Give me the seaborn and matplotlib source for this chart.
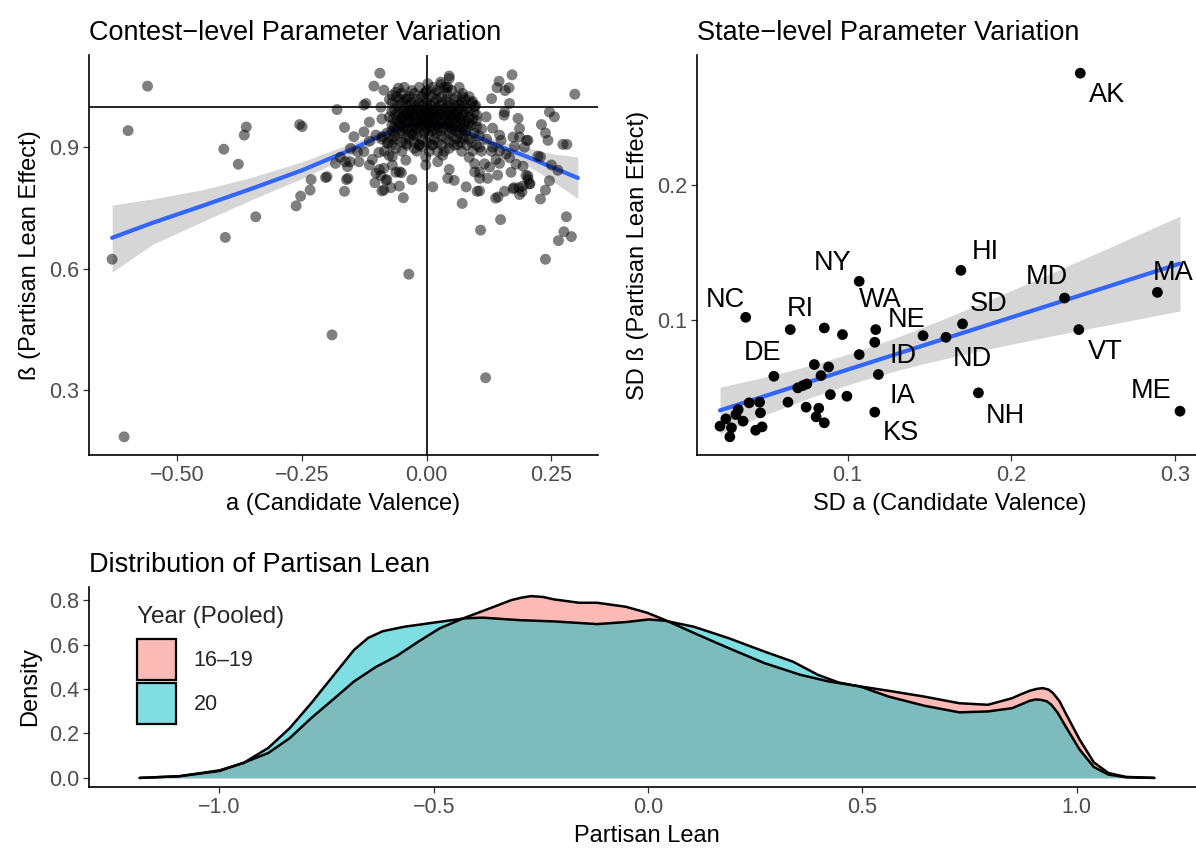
import numpy as np
import pandas as pd
import seaborn as sns
import matplotlib.pyplot as plt
from matplotlib.patches import Patch
from matplotlib.colors import to_rgba

# ---------------- data ----------------
# Contest-level estimates: valence (a) and partisan lean effect (beta)
contest_a = [
    -0.560, -0.599, -0.631, -0.607, -0.362, -0.366, -0.407, -0.378, -0.404, -0.343,
    -0.255, -0.180, -0.165, -0.232, -0.203, -0.234, -0.253, -0.262, -0.190, -0.165,
    -0.161, -0.173, -0.183, -0.200, -0.154, -0.250,
    -0.094, -0.106, -0.086, -0.057, -0.126, -0.126, -0.090, -0.092, 0.045, 0.028,
    0.042, 0.002, -0.002, 0.171, 0.145, 0.141, 0.165, 0.130, 0.166, 0.155,
    0.297, 0.246, 0.256, 0.230, 0.238, 0.243, 0.273, 0.281, 0.223, 0.250,
    0.263, 0.246, 0.238, 0.228, 0.280, 0.275, 0.290, 0.264, 0.148, 0.108,
    0.071, 0.101, 0.138, 0.156, 0.173, 0.186, 0.012, -0.047, -0.055, -0.090,
    -0.104, -0.082, -0.158, -0.055, -0.042, 0.042, 0.022, -0.002, -0.002, 0.106,
    0.122, 0.096, 0.142, 0.146, 0.199, 0.203, 0.238, 0.118, -0.036,
    0.157, 0.156, 0.183, 0.186, 0.203, 0.228, 0.207, 0.191, 0.185, 0.175,
    0.143, 0.106, -0.051, -0.010, -0.086, -0.080, 0.029, 0.045, 0.040, -0.122,
    -0.115, -0.102, -0.089, -0.079, -0.069, -0.062, -0.076, -0.096, -0.109, -0.115,
    -0.102, -0.086, -0.069, -0.069, -0.042, -0.025, -0.015, -0.028, -0.153, -0.146,
    -0.139, -0.163, -0.159, -0.136, -0.126, -0.069, -0.062, -0.042,
    -0.115, -0.095, -0.092, -0.062, -0.072, -0.030,
    0.072, 0.092, 0.096, 0.065, 0.119, 0.132, 0.146, 0.149, 0.173, 0.186,
    0.200, 0.196, 0.176, 0.159, 0.146, 0.132, 0.106, 0.092, 0.085, 0.096,
    0.116, 0.106, 0.126, 0.139, 0.166, 0.179, 0.193, 0.203, 0.193, 0.206,
    0.169, 0.079, 0.055, 0.045, 0.032, 0.045, 0.062, 0.072, 0.022, 0.012,
]
contest_b = [
    1.051, 0.941, 0.623, 0.184, 0.950, 0.930, 0.895, 0.858, 0.677, 0.728,
    0.956, 0.993, 0.949, 0.820, 0.825, 0.794, 0.779, 0.755, 0.436, 0.791,
    0.820, 0.875, 0.860, 0.827, 0.864, 0.951,
    1.083, 1.051, 1.041, 1.046, 1.004, 0.938, 0.970, 0.999, 1.076, 1.061,
    1.049, 1.057, 1.036, 1.079, 1.063, 1.047, 1.047, 1.020, 1.008, 0.979,
    1.031, 0.987, 0.975, 0.956, 0.935, 0.917, 0.907, 0.907, 0.878, 0.856,
    0.843, 0.817, 0.794, 0.772, 0.728, 0.691, 0.679, 0.669, 0.721, 0.695,
    0.761, 0.791, 0.774, 0.791, 0.797, 0.783, 0.802, 0.775, 0.804, 0.792,
    0.812, 0.818, 0.823, 0.839, 0.868, 0.823, 0.864, 0.856, 0.876, 0.823,
    0.823, 0.839, 0.831, 0.860, 0.830, 0.820, 0.623, 0.330, 0.586,
    1.040, 0.987, 0.971, 0.946, 0.917, 0.876, 0.810, 0.790, 0.800, 0.800,
    0.777, 0.792, 0.837, 0.901, 0.794, 0.820, 1.055, 1.070, 1.047, 1.008,
    0.962, 0.930, 0.926, 0.909, 0.921, 0.897, 0.880, 0.887, 0.870, 0.856,
    0.836, 0.848, 0.856, 0.877, 0.909, 0.897, 0.906, 0.930, 0.897, 0.926,
    0.889, 0.864, 0.852, 0.864, 0.889, 1.028, 1.036, 1.020,
    0.915, 0.845, 0.830, 0.838, 0.800, 0.820,
    1.024, 1.013, 1.000, 1.004, 0.975, 0.947, 0.930, 0.917, 0.925, 0.925,
    0.917, 0.900, 0.902, 0.883, 0.891, 0.900, 0.900, 0.891, 0.875, 0.859,
    0.859, 0.838, 0.851, 0.870, 0.874, 0.858, 0.853, 0.829, 0.804, 0.809,
    0.838, 0.802, 0.818, 0.845, 0.880, 0.897, 0.906, 0.922, 0.889, 0.906,
]

# The densely packed contests around a = 0, beta = 0.97
core_a = [
    -0.030, 0.000, 0.020, 0.050,
    -0.060, -0.035, -0.010, 0.010, 0.030, 0.060, 0.085,
    -0.070, -0.050, -0.030, -0.015, 0.000, 0.015, 0.030, 0.045, 0.070, 0.090,
    -0.065, -0.045, -0.030, -0.020, -0.005, 0.005, 0.020, 0.035, 0.050, 0.065, 0.080,
    -0.055, -0.040, -0.025, -0.010, 0.000, 0.010, 0.025, 0.040, 0.055, 0.075, 0.095,
    -0.075, -0.050, -0.035, -0.020, -0.005, 0.008, 0.020, 0.035, 0.050, 0.065, 0.085,
    -0.060, -0.045, -0.030, -0.012, 0.000, 0.012, 0.030, 0.045, 0.060, 0.080, 0.100,
    -0.070, -0.050, -0.025, -0.010, 0.005, 0.020, 0.040, 0.055, 0.075, 0.090,
    -0.060, -0.040, -0.020, 0.000, 0.015, 0.035, 0.050, 0.070, 0.110,
    -0.080, -0.050, -0.030, -0.005, 0.020, 0.045, 0.065, 0.095,
    -0.090, -0.060, -0.035, -0.010, 0.015, 0.040, 0.060, 0.085, 0.120,
    -0.070, -0.040, -0.015, 0.010, 0.030, 0.055, 0.080, 0.100,
    -0.085, -0.050, -0.020, 0.005, 0.035, 0.070, 0.110, 0.130,
    -0.045, -0.015, 0.012, 0.035, 0.065,
    -0.050, -0.025, -0.005, 0.018, 0.040, 0.072,
    -0.075, -0.055, -0.040, -0.020, 0.000, 0.020, 0.040, 0.055, 0.078,
    -0.058, -0.038, -0.022, -0.008, 0.008, 0.025, 0.042, 0.058, 0.075, 0.098,
    -0.070, -0.048, -0.033, -0.018, -0.002, 0.012, 0.028, 0.045, 0.062, 0.085,
    -0.062, -0.045, -0.028, -0.012, 0.004, 0.016, 0.030, 0.046, 0.060, 0.072, 0.100,
    -0.068, -0.052, -0.038, -0.024, -0.008, 0.006, 0.018, 0.038, 0.055, 0.070, 0.092,
    -0.055, -0.038, -0.018, 0.000, 0.015, 0.028, 0.048, 0.068, 0.085,
    -0.065, -0.045, -0.030, -0.012, 0.008, 0.025, 0.045, 0.062, 0.080, 0.100,
    -0.070, -0.048, -0.025, -0.005, 0.010, 0.028, 0.058, 0.078,
    -0.065, -0.040, -0.020, 0.005, 0.030, 0.052, 0.075, 0.105,
    -0.078, -0.050, -0.025, 0.000, 0.022, 0.045, 0.068, 0.090,
]
core_b = [
    1.040, 1.040, 1.040, 1.040,
    1.025, 1.025, 1.025, 1.025, 1.025, 1.025, 1.025,
    1.010, 1.010, 1.010, 1.010, 1.010, 1.010, 1.010, 1.010, 1.010, 1.010,
    0.995, 0.995, 0.995, 0.995, 0.995, 0.995, 0.995, 0.995, 0.995, 0.995, 0.995,
    0.985, 0.985, 0.985, 0.985, 0.985, 0.985, 0.985, 0.985, 0.985, 0.985, 0.985,
    0.975, 0.975, 0.975, 0.975, 0.975, 0.975, 0.975, 0.975, 0.975, 0.975, 0.975,
    0.965, 0.965, 0.965, 0.965, 0.965, 0.965, 0.965, 0.965, 0.965, 0.965, 0.965,
    0.955, 0.955, 0.955, 0.955, 0.955, 0.955, 0.955, 0.955, 0.955, 0.955,
    0.945, 0.945, 0.945, 0.945, 0.945, 0.945, 0.945, 0.945, 0.945,
    0.935, 0.935, 0.935, 0.935, 0.935, 0.935, 0.935, 0.935,
    0.920, 0.920, 0.920, 0.920, 0.920, 0.920, 0.920, 0.920, 0.920,
    0.905, 0.905, 0.905, 0.905, 0.905, 0.905, 0.905, 0.905,
    0.890, 0.890, 0.890, 0.890, 0.890, 0.890, 0.890, 0.890,
    1.048, 1.048, 1.048, 1.048, 1.048,
    1.033, 1.033, 1.033, 1.033, 1.033, 1.033,
    1.018, 1.018, 1.018, 1.018, 1.018, 1.018, 1.018, 1.018, 1.018,
    1.003, 1.003, 1.003, 1.003, 1.003, 1.003, 1.003, 1.003, 1.003, 1.003,
    0.990, 0.990, 0.990, 0.990, 0.990, 0.990, 0.990, 0.990, 0.990, 0.990,
    0.980, 0.980, 0.980, 0.980, 0.980, 0.980, 0.980, 0.980, 0.980, 0.980, 0.980,
    0.970, 0.970, 0.970, 0.970, 0.970, 0.970, 0.970, 0.970, 0.970, 0.970, 0.970,
    0.960, 0.960, 0.960, 0.960, 0.960, 0.960, 0.960, 0.960, 0.960,
    0.950, 0.950, 0.950, 0.950, 0.950, 0.950, 0.950, 0.950, 0.950, 0.950,
    0.940, 0.940, 0.940, 0.940, 0.940, 0.940, 0.940, 0.940,
    0.928, 0.928, 0.928, 0.928, 0.928, 0.928, 0.928, 0.928,
    0.912, 0.912, 0.912, 0.912, 0.912, 0.912, 0.912, 0.912,
]

# Local regression fit of beta on a, with its 95% band
smooth_a = [-0.631, -0.55, -0.45, -0.35, -0.25, -0.15, -0.10, -0.05, 0.0,
            0.05, 0.10, 0.15, 0.20, 0.25, 0.303]
smooth_fit = [0.676, 0.713, 0.755, 0.798, 0.843, 0.895, 0.924, 0.950, 0.962,
              0.952, 0.926, 0.900, 0.877, 0.851, 0.824]
smooth_lo = [0.591, 0.660, 0.716, 0.771, 0.823, 0.881, 0.912, 0.940, 0.953,
             0.942, 0.915, 0.887, 0.856, 0.818, 0.773]
smooth_hi = [0.757, 0.772, 0.795, 0.826, 0.864, 0.910, 0.936, 0.960, 0.971,
             0.962, 0.937, 0.914, 0.899, 0.884, 0.876]

# State-level standard deviations of a and beta
state_abbr = ["AK", "HI", "NY", "NC", "RI", "MD", "MA", "SD", "VT", "NE",
              "ND", "WA", "", "", "ID", "", "IA", "KS", "NH", "ME",
              "DE", "", "", "", "", "", "", "", "", "",
              "", "", "", "", "", "", "", "", "", "",
              "", "", "", "", "", ""]
state_sd_a = [0.2421, 0.1692, 0.1071, 0.0378, 0.0650, 0.2325, 0.2892, 0.1702, 0.2412, 0.1461,
              0.1601, 0.1172, 0.0969, 0.0858, 0.1166, 0.1071, 0.1188, 0.1166, 0.1799, 0.3030,
              0.0550, 0.0797, 0.0884, 0.0838, 0.0696, 0.0727, 0.0751, 0.0895, 0.0996, 0.0636,
              0.0747, 0.0824, 0.0808, 0.0858, 0.0399, 0.0463, 0.0468, 0.0439, 0.0478, 0.0332,
              0.0362, 0.0257, 0.0221, 0.0291, 0.0281, 0.0318]
state_sd_b = [0.2827, 0.1365, 0.1284, 0.1017, 0.0926, 0.1160, 0.1202, 0.0968, 0.0926, 0.0881,
              0.0869, 0.0926, 0.0889, 0.0938, 0.0832, 0.0741, 0.0593, 0.0314, 0.0457, 0.0321,
              0.0580, 0.0667, 0.0649, 0.0585, 0.0494, 0.0511, 0.0523, 0.0444, 0.0432, 0.0388,
              0.0351, 0.0343, 0.0279, 0.0235, 0.0383, 0.0388, 0.0309, 0.0180, 0.0205, 0.0333,
              0.0247, 0.0264, 0.0210, 0.0198, 0.0131, 0.0296]

# Kernel density of partisan lean, by pooled year
lean_x_1619 = [-1.186, -1.094, -1.0, -0.944, -0.886, -0.836, -0.786, -0.736, -0.686, -0.636,
               -0.586, -0.536, -0.486, -0.427, -0.369, -0.319, -0.295, -0.273, -0.245, -0.219,
               -0.161, -0.119, -0.052, -0.002, 0.040, 0.107, 0.189, 0.272, 0.355, 0.421,
               0.487, 0.561, 0.644, 0.726, 0.793, 0.850, 0.872, 0.892, 0.908, 0.921,
               0.935, 0.945, 0.960, 0.974, 1.007, 1.040, 1.074, 1.115, 1.181]
dens_1619 = [0.0, 0.0075, 0.031, 0.068, 0.112, 0.179, 0.269, 0.351, 0.434, 0.498,
             0.549, 0.613, 0.673, 0.721, 0.763, 0.800, 0.811, 0.818, 0.814, 0.803,
             0.788, 0.788, 0.770, 0.743, 0.710, 0.652, 0.583, 0.516, 0.464, 0.434,
             0.414, 0.392, 0.366, 0.336, 0.329, 0.359, 0.378, 0.393, 0.401, 0.404,
             0.397, 0.381, 0.345, 0.292, 0.172, 0.070, 0.022, 0.0045, 0.0]
lean_x_20 = [-1.186, -1.094, -1.0, -0.944, -0.886, -0.836, -0.786, -0.736, -0.686, -0.653,
             -0.619, -0.569, -0.502, -0.427, -0.386, -0.302, -0.219, -0.119, -0.052, 0.002,
             0.040, 0.107, 0.189, 0.272, 0.338, 0.396, 0.445, 0.495, 0.561, 0.644,
             0.726, 0.793, 0.850, 0.872, 0.892, 0.905, 0.917, 0.930, 0.941, 0.955,
             0.974, 1.007, 1.040, 1.074, 1.115, 1.181]
dens_20 = [0.0, 0.0075, 0.034, 0.067, 0.135, 0.224, 0.336, 0.456, 0.576, 0.630,
           0.660, 0.680, 0.698, 0.718, 0.721, 0.710, 0.704, 0.692, 0.701, 0.713,
           0.707, 0.680, 0.628, 0.568, 0.523, 0.464, 0.429, 0.411, 0.366, 0.325,
           0.295, 0.299, 0.314, 0.332, 0.348, 0.353, 0.351, 0.345, 0.329, 0.295,
           0.232, 0.127, 0.049, 0.015, 0.003, 0.0]
year_labels = ["16\u201319", "20"]

x1_ticks = [-0.50, -0.25, 0.00, 0.25]
y1_ticks = [0.3, 0.6, 0.9]
x2_ticks = [0.1, 0.2, 0.3]
y2_ticks = [0.1, 0.2]
x3_ticks = [-1.0, -0.5, 0.0, 0.5, 1.0]
y3_ticks = [0.0, 0.2, 0.4, 0.6, 0.8]

# ---------------- styling ----------------
sns.set_theme(style="white")
plt.rcParams["font.family"] = ["Liberation Sans", "DejaVu Sans"]
plt.rcParams["axes.unicode_minus"] = True

TICK_FS = 15.5
LAB_FS = 17
TITLE_FS = 19.5
PINK = "#F8766D"
TEAL = "#00BFC4"
BLUE = "#3366FF"

W, H = 1196, 848
fig = plt.figure(figsize=(W / 100, H / 100), dpi=100)


def box(l, t, r, b):
    return [l / W, 1 - b / H, (r - l) / W, (b - t) / H]


def expand(vals, frac=0.05):
    lo, hi = min(vals), max(vals)
    d = (hi - lo) * frac
    return lo - d, hi + d


def style_axes(ax):
    for s in ["top", "right"]:
        ax.spines[s].set_visible(False)
    for s in ["left", "bottom"]:
        ax.spines[s].set_color("black")
        ax.spines[s].set_linewidth(1.2)
    ax.tick_params(axis="both", which="both", direction="out", length=4, width=0.9,
                   color="#333333", labelcolor="#4D4D4D", labelsize=TICK_FS,
                   bottom=True, left=True, pad=3)
    ax.grid(False)
    ax.set_facecolor("white")


def fmt(vals, nd):
    return [f"{v:.{nd}f}".replace("-", "\u2212") for v in vals]


ax1 = fig.add_axes(box(89, 55, 598, 455))
ax2 = fig.add_axes(box(697, 55, 1203, 455))
ax3 = fig.add_axes(box(89, 587, 1205, 787))

# ---- panel 1: contest-level scatter with local fit ----
all_a = contest_a + core_a
all_b = contest_b + core_b
ax1.fill_between(smooth_a, smooth_lo, smooth_hi, color="#999999", alpha=0.4, lw=0, zorder=1)
sns.lineplot(x=smooth_a, y=smooth_fit, color=BLUE, lw=3, ax=ax1, zorder=2)
ax1.axhline(1.0, color="black", lw=1.2, zorder=2.5)
ax1.axvline(0.0, color="black", lw=1.2, zorder=2.5)
sns.scatterplot(x=all_a, y=all_b, color="black", alpha=0.5, s=62,
                edgecolor="none", linewidth=0, ax=ax1, zorder=3)
ax1.set_xlim(*expand(all_a))
ax1.set_ylim(*expand(all_b))
style_axes(ax1)
ax1.set_xticks(x1_ticks, fmt(x1_ticks, 2))
ax1.set_yticks(y1_ticks, fmt(y1_ticks, 1))
ax1.set_xlabel("a (Candidate Valence)", fontsize=LAB_FS, color="black", labelpad=5)
ax1.set_ylabel("\u00df (Partisan Lean Effect)", fontsize=LAB_FS, color="black", labelpad=6)
ax1.set_title("Contest\u2212level Parameter Variation", loc="left", fontsize=TITLE_FS,
              color="black", pad=11)

# ---- panel 2: state-level SDs with linear fit ----
states = pd.DataFrame({"abbr": state_abbr, "sd_a": state_sd_a, "sd_b": state_sd_b})
xa = states["sd_a"].to_numpy()
yb = states["sd_b"].to_numpy()
slope, intercept = np.polyfit(xa, yb, 1)
n = len(xa)
resid = yb - (intercept + slope * xa)
sigma = np.sqrt((resid ** 2).sum() / (n - 2))
sxx = ((xa - xa.mean()) ** 2).sum()
grid = np.linspace(xa.min(), xa.max(), 100)
fit = intercept + slope * grid
half = 2.015 * sigma * np.sqrt(1.0 / n + (grid - xa.mean()) ** 2 / sxx)
ax2.fill_between(grid, fit - half, fit + half, color="#999999", alpha=0.4, lw=0, zorder=1)
sns.regplot(data=states, x="sd_a", y="sd_b", scatter=False, ci=None,
            color=BLUE, line_kws={"lw": 3, "zorder": 2}, ax=ax2)
sns.scatterplot(data=states, x="sd_a", y="sd_b", color="black", s=60,
                edgecolor="none", linewidth=0, ax=ax2, zorder=3)

label_offsets = {
    "AK": (19, -16), "HI": (17.5, 13.5), "NY": (-19.5, 13.5), "NC": (-14.5, 12.5),
    "RI": (7, 15), "MD": (-13, 15), "MA": (11, 14), "SD": (18.5, 14),
    "VT": (19, -16), "NE": (-12, 11.5), "ND": (19, -16), "WA": (3, 21.5),
    "ID": (20, -10), "IA": (17.5, -15.5), "KS": (19, -15), "NH": (19.5, -16.5),
    "ME": (-20.5, 14.5), "DE": (-8, 17),
}
for _, row in states.iterrows():
    if row["abbr"] in label_offsets:
        dx, dy = label_offsets[row["abbr"]]
        ax2.annotate(row["abbr"], (row["sd_a"], row["sd_b"]), xytext=(dx, dy),
                     textcoords="offset points", ha="center", va="center",
                     fontsize=19.5, color="black", zorder=4, annotation_clip=False)
ax2.set_xlim(*expand(state_sd_a))
ax2.set_ylim(*expand(state_sd_b))
style_axes(ax2)
ax2.set_xticks(x2_ticks, fmt(x2_ticks, 1))
ax2.set_yticks(y2_ticks, fmt(y2_ticks, 1))
ax2.set_xlabel("SD a (Candidate Valence)", fontsize=LAB_FS, color="black", labelpad=5)
ax2.set_ylabel("SD \u00df (Partisan Lean Effect)", fontsize=LAB_FS, color="black", labelpad=6)
ax2.set_title("State\u2212level Parameter Variation", loc="left", fontsize=TITLE_FS,
              color="black", pad=11)

# ---- panel 3: density of partisan lean ----
for xs, ys, col in [(lean_x_1619, dens_1619, PINK), (lean_x_20, dens_20, TEAL)]:
    ax3.fill_between(xs, 0, ys, color=col, alpha=0.5, lw=0)
    sns.lineplot(x=xs, y=ys, color="black", lw=1.8, ax=ax3, sort=False)
ax3.set_xlim(*expand(lean_x_1619 + lean_x_20))
ax3.set_ylim(*expand([0.0] + dens_1619 + dens_20))
style_axes(ax3)
ax3.set_xticks(x3_ticks, fmt(x3_ticks, 1))
ax3.set_yticks(y3_ticks, fmt(y3_ticks, 1))
ax3.set_xlabel("Partisan Lean", fontsize=LAB_FS, color="black", labelpad=5)
ax3.set_ylabel("Density", fontsize=LAB_FS, color="black", labelpad=6)
ax3.set_title("Distribution of Partisan Lean", loc="left", fontsize=TITLE_FS,
              color="black", pad=11)

handles = [Patch(facecolor=to_rgba(c, 0.5), edgecolor="black", linewidth=1.6)
           for c in (PINK, TEAL)]
leg = ax3.legend(handles, year_labels, title="Year (Pooled)", loc="upper left",
                 bbox_to_anchor=(0.035, 0.95), frameon=False, fontsize=15.5,
                 title_fontsize=17.5, handlelength=1.85, handleheight=2.55,
                 labelspacing=0.15, handletextpad=0.8, borderaxespad=0)
leg._legend_box.align = "left"
leg._legend_box.sep = 8
for p in leg.get_patches():
    p.set_edgecolor("black")

fig.savefig("out.png", dpi=100)
